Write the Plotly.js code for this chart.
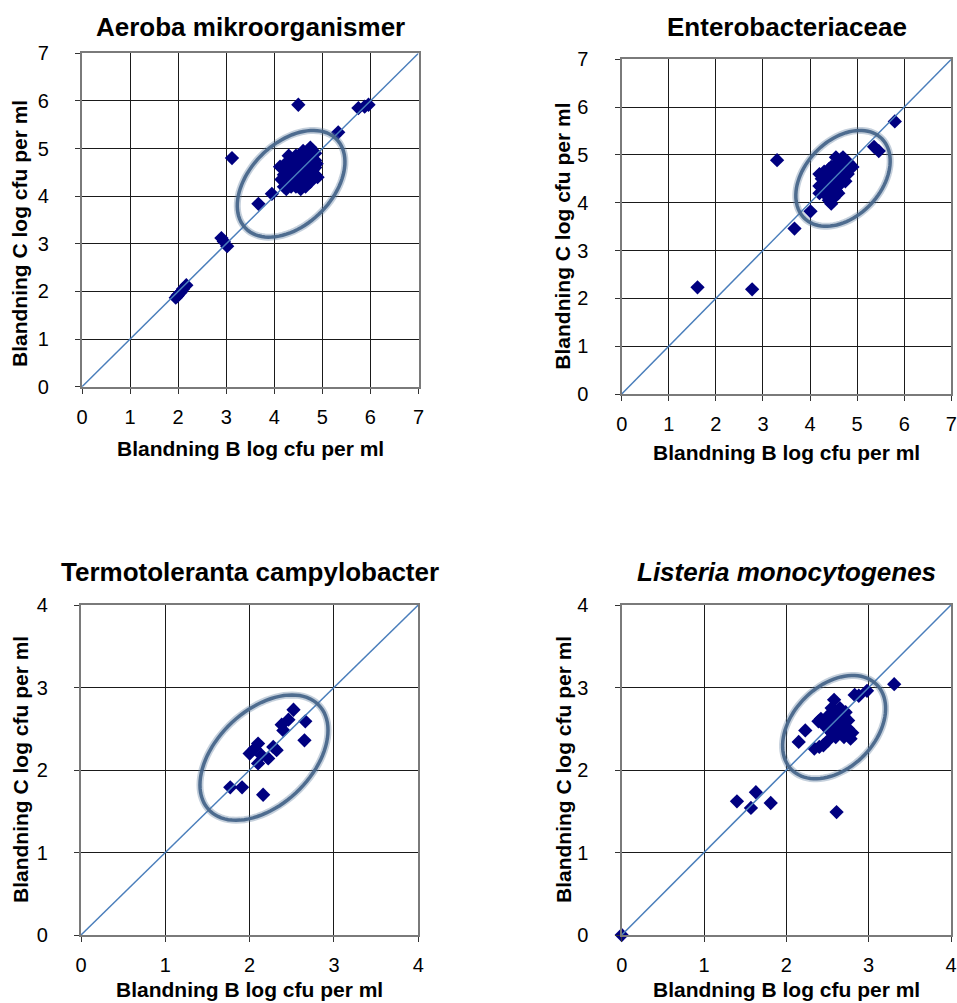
<!DOCTYPE html>
<html>
<head>
<meta charset="utf-8">
<script src="https://cdn.plot.ly/plotly-3.0.1.min.js"></script>
<style>html,body{margin:0;padding:0;background:#fff;}#chart{width:957px;height:1003px;}</style>
</head>
<body>
<div id="chart"></div>
<script>
// ---------- Data ----------
const titles = ["Aeroba mikroorganismer", "Enterobacteriaceae", "Termotoleranta campylobacter", "<i>Listeria monocytogenes</i>"];
const xTitle = "Blandning B log cfu per ml";
const yTitle = "Blandning C log cfu per ml";
const axisMax = [7, 7, 4, 4];

const aerobaB = [1.95,2.0,2.05,2.1,2.17,1.98, 2.9,2.95,3.02, 3.12, 3.67, 3.95, 4.5, 5.33, 5.75,5.96,5.88,
  4.2,4.25,4.3,4.35,4.4,4.45,4.5,4.55,4.6,4.65,4.7,4.75,4.8,4.85,4.2,4.2,4.25,4.3,4.35,4.4,4.45,4.5,4.55,4.6,4.65,4.7,4.75,4.8,4.85,
  4.4,4.45,4.5,4.55,4.6,4.65,4.7,4.75,4.8,4.85,4.75,4.6,4.3,4.5,4.65,4.25,4.35,4.55,4.7,4.8,4.85,4.3,4.2,4.12,4.15,4.9,4.88];
const aerobaC = [1.87,1.93,1.98,2.05,2.13,1.9, 3.12,3.05,2.95, 4.80, 3.84, 4.05, 5.92, 5.34, 5.85,5.92,5.88,
  4.2,4.3,4.25,4.2,4.3,4.2,4.25,4.15,4.3,4.2,4.35,4.3,4.4,4.45,4.45,4.6,4.7,4.55,4.65,4.5,4.6,4.45,4.55,4.5,4.65,4.55,4.6,4.7,4.75,
  4.75,4.85,4.7,4.8,4.75,4.85,4.9,4.85,4.95,4.9,5.02,4.95,4.4,4.35,4.4,4.15,4.45,4.65,4.75,4.55,4.6,4.85,4.35,4.62,4.35,4.4,4.68];

const enteroB = [1.61, 2.77, 3.30, 3.67, 4.01, 5.36, 5.46, 5.80,
  4.2,4.2,4.25,4.2,4.3,4.35,4.4,4.45,4.5,4.4,4.35,4.3,4.45,4.5,4.55,4.6,4.65,4.5,4.45,4.55,4.6,4.65,4.7,4.7,4.75,4.8,4.85,4.9,4.75,4.8,4.55,4.7,4.35,4.6,4.4];
const enteroC = [2.23, 2.19, 4.89, 3.46, 3.82, 5.17, 5.08, 5.70,
  4.2,4.35,4.5,4.6,4.3,4.15,4.05,3.98,4.1,4.35,4.5,4.65,4.55,4.4,4.25,4.35,4.5,4.65,4.75,4.8,4.7,4.9,4.8,4.6,4.75,4.85,4.8,4.75,4.45,4.6,4.95,4.95,4.25,4.2,4.7];

const campyB = [1.77, 1.91, 2.16, 2.10, 2.00, 2.14, 2.28, 2.32, 2.10, 2.22, 2.06, 2.52, 2.46, 2.38, 2.40, 2.66, 2.65];
const campyC = [1.79, 1.79, 1.70, 2.32, 2.20, 2.18, 2.28, 2.24, 2.08, 2.14, 2.26, 2.73, 2.61, 2.55, 2.48, 2.59, 2.36];

const listB = [0, 1.40, 1.57, 1.63, 1.81, 2.61, 3.31, 2.88, 2.98, 2.15, 2.23, 2.34, 2.39, 2.42,
  2.45,2.5,2.55,2.58,2.6,2.65,2.7,2.75,2.8,2.78,2.7,2.6,2.55,2.5,2.45,2.4,2.55,2.65,2.7,2.75,2.62,2.68,2.58,2.52,2.72,2.83];
const listC = [0, 1.62, 1.54, 1.73, 1.60, 1.49, 3.04, 2.90, 2.96, 2.34, 2.48, 2.26, 2.59, 2.62,
  2.55,2.65,2.75,2.85,2.7,2.6,2.55,2.5,2.45,2.38,2.4,2.4,2.45,2.35,2.3,2.28,2.55,2.75,2.65,2.6,2.5,2.48,2.62,2.48,2.7,2.91];

// ellipse overlays: centre x, centre y, semi-major, semi-minor (data units), tilt degrees
const ellCx = [4.35, 4.70, 2.17, 2.58];
const ellCy = [4.26, 4.51, 2.15, 2.52];
const ellA  = [1.33, 1.17, 0.91, 0.73];
const ellB  = [0.86, 0.80, 0.57, 0.50];
const ellAng = [45, 45, 45, 45];

// ---------- Layout geometry ----------
const W = 957, H = 1003;
const boxes = [ // plot area in pixels: left, right, top, bottom
  [82, 418.5, 53.3, 386.7],
  [621.7, 951.3, 59.3, 394],
  [81, 418.3, 605, 935],
  [621.7, 951, 605, 935]
];
const titleY = [27, 27, 572, 572];
const xTitleY = [448, 453, 989, 989];
const yTitleX = [20, 563, 20, 563];
const yTitleShift = [14, 10, 0, 0];

const bx = [aerobaB, enteroB, campyB, listB];
const by = [aerobaC, enteroC, campyC, listC];

const data = [];
const layout = {
  width: W, height: H, margin: {l:0, r:0, t:0, b:0},
  paper_bgcolor: '#fff', plot_bgcolor: '#fff',
  showlegend: false,
  font: {family: '"Liberation Sans", Arial, sans-serif', color: '#000', size: 20},
  annotations: [], shapes: []
};

function ellipsePath(cx, cy, a, b, angDeg) {
  const th = angDeg * Math.PI / 180;
  let p = '';
  for (let i = 0; i <= 90; i++) {
    const t = 2 * Math.PI * i / 90;
    const x = cx + a * Math.cos(t) * Math.cos(th) - b * Math.sin(t) * Math.sin(th);
    const y = cy + a * Math.cos(t) * Math.sin(th) + b * Math.sin(t) * Math.cos(th);
    p += (i === 0 ? 'M' : 'L') + x.toFixed(4) + ',' + y.toFixed(4);
  }
  return p + 'Z';
}

for (let k = 0; k < 4; k++) {
  const n = k + 1;
  const xa = 'x' + (n === 1 ? '' : n), ya = 'y' + (n === 1 ? '' : n);
  const xKey = 'xaxis' + (n === 1 ? '' : n), yKey = 'yaxis' + (n === 1 ? '' : n);
  const [l, r, t, b] = boxes[k];
  const m = axisMax[k];
  const axBase = {
    range: [0, m], dtick: 1, tick0: 0, autorange: false,
    showgrid: true, gridcolor: '#1a1a1a', gridwidth: 1,
    zeroline: false, showline: true, linecolor: '#7a7a7a', linewidth: 2, mirror: true,
    ticks: 'outside', ticklen: 5, tickcolor: '#333', tickwidth: 1,
    tickfont: {size: 20, color: '#000'}, fixedrange: true
  };
  layout[xKey] = Object.assign({}, axBase, {domain: [l / W, r / W], anchor: ya, ticklabelstandoff: 6});
  layout[yKey] = Object.assign({}, axBase, {domain: [1 - b / H, 1 - t / H], anchor: xa,
    ticksuffix: '\u00a0\u00a0\u00a0\u00a0'});

  data.push({type: 'scatter', mode: 'markers', x: bx[k], y: by[k], xaxis: xa, yaxis: ya,
    marker: {symbol: 'diamond', size: 11, color: '#000080', line: {width: 0}}, cliponaxis: false, hoverinfo: 'x+y'});
  data.push({type: 'scatter', mode: 'lines', x: [0, m], y: [0, m], xaxis: xa, yaxis: ya,
    line: {color: '#4a7ebb', width: 1.5}, hoverinfo: 'skip'});

  const path = ellipsePath(ellCx[k], ellCy[k], ellA[k], ellB[k], ellAng[k]);
  layout.shapes.push({type: 'path', path: path, xref: xa, yref: ya, layer: 'above',
    line: {color: 'rgba(90,120,155,0.35)', width: 7}});
  layout.shapes.push({type: 'path', path: path, xref: xa, yref: ya, layer: 'above',
    line: {color: 'rgba(72,102,138,0.95)', width: 3.5}});

  layout.annotations.push({text: '<b>' + titles[k] + '</b>', xref: 'paper', yref: 'paper',
    x: (l + r) / 2 / W, y: 1 - titleY[k] / H, xanchor: 'center', yanchor: 'middle', showarrow: false,
    font: {size: 26, color: '#000'}});
  layout.annotations.push({text: '<b>' + xTitle + '</b>', xref: 'paper', yref: 'paper',
    x: (l + r) / 2 / W, y: 1 - xTitleY[k] / H, xanchor: 'center', yanchor: 'middle', showarrow: false,
    font: {size: 21, color: '#000'}});
  layout.annotations.push({text: '<b>' + yTitle + '</b>', xref: 'paper', yref: 'paper',
    x: yTitleX[k] / W, y: 1 - ((t + b) / 2 + yTitleShift[k]) / H, xanchor: 'center', yanchor: 'middle', showarrow: false,
    textangle: -90, font: {size: 21, color: '#000'}});
}

Plotly.newPlot('chart', data, layout, {displayModeBar: false, staticPlot: true});
</script>
</body>
</html>
